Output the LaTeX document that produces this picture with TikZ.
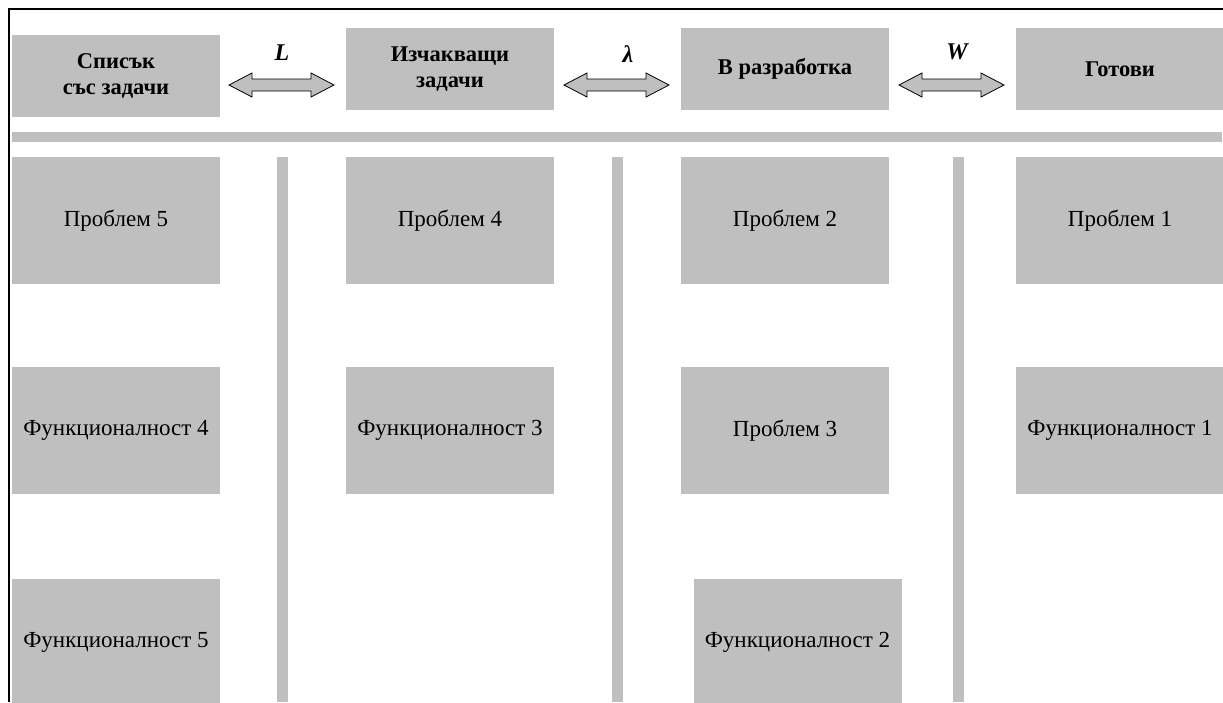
\documentclass[tikz,border=0pt]{standalone}
\usepackage{fontspec}
\setmainfont{Liberation Serif}
\begin{document}
\begin{tikzpicture}[x=1pt,y=-1pt,
  card/.style={fill=cardgray, draw=none, inner sep=0pt, align=center,
    minimum width=208pt, minimum height=127pt,
    font=\fontsize{23}{27}\selectfont},
  headcard/.style={card, minimum height=82pt,
    font=\fontsize{22.5}{26}\selectfont\bfseries},
  bar/.style={fill=cardgray, draw=none},
  wiplabel/.style={font=\fontsize{24}{28}\selectfont\bfseries\itshape, inner sep=0pt},
  dblarrow/.pic={
    \draw[fill=cardgray, line width=0.8pt, line join=miter]
      (-52.5,0) -- (-29.5,-12) -- (-29.5,-6) -- (29.5,-6) -- (29.5,-12)
      -- (52.5,0) -- (29.5,12) -- (29.5,6) -- (-29.5,6) -- (-29.5,12) -- cycle;
  }]
\definecolor{cardgray}{RGB}{191,191,191}
\clip (0,0) rectangle (1223,702);
\fill[white] (0,0) rectangle (1223,702);

% frame edges
\draw[line width=2pt] (9,702) -- (9,9) -- (1223,9);

% column headers
\node[headcard] (h1) at (116,76) {Списък\\със задачи};
\node[headcard] (h2) at (450,69) {Изчакващи\\задачи};
\node[headcard] (h3) at (785,69) {В разработка};
\node[headcard] (h4) at (1120,69) {Готови};

% limits between the columns
\pic (a1) at (281.5,85) {dblarrow};
\pic (a2) at (616.5,85) {dblarrow};
\pic (a3) at (951.5,85) {dblarrow};
\node[wiplabel] (l1) at (282,53) {L};
\node[wiplabel] (l2) at (628,54) {λ};
\node[wiplabel] (l3) at (957,52) {W};

% separators
\fill[bar] (12,132) rectangle (1222,142);
\fill[bar] (277,157) rectangle (288,702);
\fill[bar] (612,157) rectangle (623,702);
\fill[bar] (953,157) rectangle (964,702);

% cards
\node[card] (c11) at (116,220.5) {Проблем 5};
\node[card] (c12) at (116,430.5) {Функционалност 4};
\node[card] (c13) at (116,642.5) {Функционалност 5};
\node[card] (c21) at (450,220.5) {Проблем 4};
\node[card] (c22) at (450,430.5) {Функционалност 3};
\node[card] (c31) at (785,220.5) {Проблем 2};
\node[card] (c32) at (785,430.5) {Проблем 3};
\node[card] (c33) at (797.5,642.5) {Функционалност 2};
\node[card] (c41) at (1120,220.5) {Проблем 1};
\node[card] (c42) at (1120,430.5) {Функционалност 1};
\end{tikzpicture}
\end{document}
